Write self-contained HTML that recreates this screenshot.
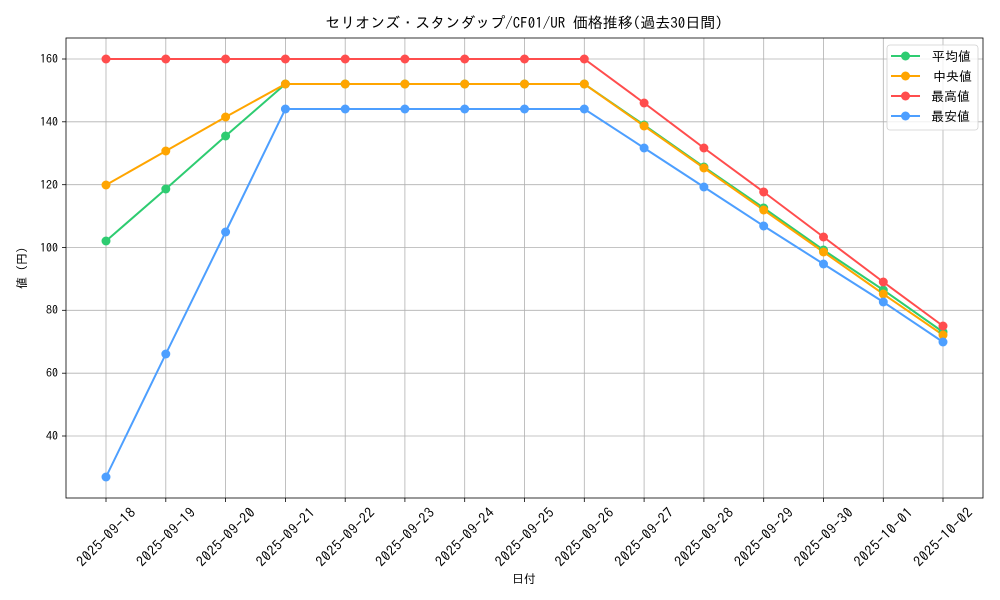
<!DOCTYPE html>
<html><head><meta charset="utf-8"><style>
body{margin:0;background:#fff}
svg{display:block;font-family:"IPAGothic","Noto Sans CJK JP",sans-serif}
</style></head><body>
<svg width="1000" height="600" xmlns="http://www.w3.org/2000/svg">
<rect width="1000" height="600" fill="#fff"/>
<g stroke="#b0b0b0" stroke-width="0.8">
<line x1="106" y1="38" x2="106" y2="498"/><line x1="165.8" y1="38" x2="165.8" y2="498"/><line x1="225.6" y1="38" x2="225.6" y2="498"/><line x1="285.4" y1="38" x2="285.4" y2="498"/><line x1="345.2" y1="38" x2="345.2" y2="498"/><line x1="404.9" y1="38" x2="404.9" y2="498"/><line x1="464.7" y1="38" x2="464.7" y2="498"/><line x1="524.5" y1="38" x2="524.5" y2="498"/><line x1="584.3" y1="38" x2="584.3" y2="498"/><line x1="644.1" y1="38" x2="644.1" y2="498"/><line x1="703.9" y1="38" x2="703.9" y2="498"/><line x1="763.7" y1="38" x2="763.7" y2="498"/><line x1="823.5" y1="38" x2="823.5" y2="498"/><line x1="883.3" y1="38" x2="883.3" y2="498"/><line x1="943" y1="38" x2="943" y2="498"/>
<line x1="66" y1="59" x2="983" y2="59"/><line x1="66" y1="121.8" x2="983" y2="121.8"/><line x1="66" y1="184.7" x2="983" y2="184.7"/><line x1="66" y1="247.5" x2="983" y2="247.5"/><line x1="66" y1="310.3" x2="983" y2="310.3"/><line x1="66" y1="373.2" x2="983" y2="373.2"/><line x1="66" y1="436" x2="983" y2="436"/>
</g>
<rect x="66" y="38" width="917" height="460" fill="none" stroke="#000" stroke-width="0.8"/>
<g stroke="#000" stroke-width="0.8">
<line x1="62" y1="59" x2="66" y2="59"/><line x1="62" y1="121.8" x2="66" y2="121.8"/><line x1="62" y1="184.7" x2="66" y2="184.7"/><line x1="62" y1="247.5" x2="66" y2="247.5"/><line x1="62" y1="310.3" x2="66" y2="310.3"/><line x1="62" y1="373.2" x2="66" y2="373.2"/><line x1="62" y1="436" x2="66" y2="436"/>
<line x1="106" y1="498" x2="106" y2="502"/><line x1="165.8" y1="498" x2="165.8" y2="502"/><line x1="225.6" y1="498" x2="225.6" y2="502"/><line x1="285.4" y1="498" x2="285.4" y2="502"/><line x1="345.2" y1="498" x2="345.2" y2="502"/><line x1="404.9" y1="498" x2="404.9" y2="502"/><line x1="464.7" y1="498" x2="464.7" y2="502"/><line x1="524.5" y1="498" x2="524.5" y2="502"/><line x1="584.3" y1="498" x2="584.3" y2="502"/><line x1="644.1" y1="498" x2="644.1" y2="502"/><line x1="703.9" y1="498" x2="703.9" y2="502"/><line x1="763.7" y1="498" x2="763.7" y2="502"/><line x1="823.5" y1="498" x2="823.5" y2="502"/><line x1="883.3" y1="498" x2="883.3" y2="502"/><line x1="943" y1="498" x2="943" y2="502"/>
</g>
<g font-size="12" text-anchor="end" fill="#000">
<text x="58" y="63">160</text><text x="58" y="126">140</text><text x="58" y="189">120</text><text x="58" y="252">100</text><text x="58" y="314">80</text><text x="58" y="377">60</text><text x="58" y="440">40</text>
</g>
<g font-size="14" text-anchor="middle" fill="#000">
<text transform="translate(106,537) rotate(-45)" dy="5" textLength="76">2025-09-18</text>
<text transform="translate(165.8,537) rotate(-45)" dy="5" textLength="76">2025-09-19</text>
<text transform="translate(225.6,537) rotate(-45)" dy="5" textLength="76">2025-09-20</text>
<text transform="translate(285.4,537) rotate(-45)" dy="5" textLength="76">2025-09-21</text>
<text transform="translate(345.2,537) rotate(-45)" dy="5" textLength="76">2025-09-22</text>
<text transform="translate(404.9,537) rotate(-45)" dy="5" textLength="76">2025-09-23</text>
<text transform="translate(464.7,537) rotate(-45)" dy="5" textLength="76">2025-09-24</text>
<text transform="translate(524.5,537) rotate(-45)" dy="5" textLength="76">2025-09-25</text>
<text transform="translate(584.3,537) rotate(-45)" dy="5" textLength="76">2025-09-26</text>
<text transform="translate(644.1,537) rotate(-45)" dy="5" textLength="76">2025-09-27</text>
<text transform="translate(703.9,537) rotate(-45)" dy="5" textLength="76">2025-09-28</text>
<text transform="translate(763.7,537) rotate(-45)" dy="5" textLength="76">2025-09-29</text>
<text transform="translate(823.5,537) rotate(-45)" dy="5" textLength="76">2025-09-30</text>
<text transform="translate(883.3,537) rotate(-45)" dy="5" textLength="76">2025-10-01</text>
<text transform="translate(943,537) rotate(-45)" dy="5" textLength="76">2025-10-02</text>
</g>
<text x="524" y="583" font-size="12" text-anchor="middle">日付</text>
<text transform="translate(26,268) rotate(-90)" font-size="12" text-anchor="middle">値 (円)</text>
<text x="524" y="28" font-size="15" text-anchor="middle">セリオンズ・スタンダップ/CF01/UR 価格推移(過去30日間)</text>
<g fill="none" stroke-width="2">
<polyline stroke="#2ecc71" points="106,241 165.8,189 225.6,136 285.4,84 345.2,84 404.9,84 464.7,84 524.5,84 584.3,84 644.1,125 703.9,167 763.7,208 823.5,250 883.3,290 943,332"/>
<polyline stroke="#ffa500" points="106,185 165.8,151 225.6,117 285.4,84 345.2,84 404.9,84 464.7,84 524.5,84 584.3,84 644.1,126 703.9,168 763.7,210 823.5,252 883.3,294 943,335"/>
<polyline stroke="#ff4d4d" points="106,59 165.8,59 225.6,59 285.4,59 345.2,59 404.9,59 464.7,59 524.5,59 584.3,59 644.1,103 703.9,148 763.7,192 823.5,237 883.3,282 943,326"/>
<polyline stroke="#4d9fff" points="106,477 165.8,354 225.6,232 285.4,109 345.2,109 404.9,109 464.7,109 524.5,109 584.3,109 644.1,148 703.9,187 763.7,226 823.5,264 883.3,302 943,342"/>
</g>
<g fill="#2ecc71"><circle cx="106" cy="241" r="4.5"/><circle cx="165.8" cy="189" r="4.5"/><circle cx="225.6" cy="136" r="4.5"/><circle cx="285.4" cy="84" r="4.5"/><circle cx="345.2" cy="84" r="4.5"/><circle cx="404.9" cy="84" r="4.5"/><circle cx="464.7" cy="84" r="4.5"/><circle cx="524.5" cy="84" r="4.5"/><circle cx="584.3" cy="84" r="4.5"/><circle cx="644.1" cy="125" r="4.5"/><circle cx="703.9" cy="167" r="4.5"/><circle cx="763.7" cy="208" r="4.5"/><circle cx="823.5" cy="250" r="4.5"/><circle cx="883.3" cy="290" r="4.5"/><circle cx="943" cy="332" r="4.5"/></g>
<g fill="#ffa500"><circle cx="106" cy="185" r="4.5"/><circle cx="165.8" cy="151" r="4.5"/><circle cx="225.6" cy="117" r="4.5"/><circle cx="285.4" cy="84" r="4.5"/><circle cx="345.2" cy="84" r="4.5"/><circle cx="404.9" cy="84" r="4.5"/><circle cx="464.7" cy="84" r="4.5"/><circle cx="524.5" cy="84" r="4.5"/><circle cx="584.3" cy="84" r="4.5"/><circle cx="644.1" cy="126" r="4.5"/><circle cx="703.9" cy="168" r="4.5"/><circle cx="763.7" cy="210" r="4.5"/><circle cx="823.5" cy="252" r="4.5"/><circle cx="883.3" cy="294" r="4.5"/><circle cx="943" cy="335" r="4.5"/></g>
<g fill="#ff4d4d"><circle cx="106" cy="59" r="4.5"/><circle cx="165.8" cy="59" r="4.5"/><circle cx="225.6" cy="59" r="4.5"/><circle cx="285.4" cy="59" r="4.5"/><circle cx="345.2" cy="59" r="4.5"/><circle cx="404.9" cy="59" r="4.5"/><circle cx="464.7" cy="59" r="4.5"/><circle cx="524.5" cy="59" r="4.5"/><circle cx="584.3" cy="59" r="4.5"/><circle cx="644.1" cy="103" r="4.5"/><circle cx="703.9" cy="148" r="4.5"/><circle cx="763.7" cy="192" r="4.5"/><circle cx="823.5" cy="237" r="4.5"/><circle cx="883.3" cy="282" r="4.5"/><circle cx="943" cy="326" r="4.5"/></g>
<g fill="#4d9fff"><circle cx="106" cy="477" r="4.5"/><circle cx="165.8" cy="354" r="4.5"/><circle cx="225.6" cy="232" r="4.5"/><circle cx="285.4" cy="109" r="4.5"/><circle cx="345.2" cy="109" r="4.5"/><circle cx="404.9" cy="109" r="4.5"/><circle cx="464.7" cy="109" r="4.5"/><circle cx="524.5" cy="109" r="4.5"/><circle cx="584.3" cy="109" r="4.5"/><circle cx="644.1" cy="148" r="4.5"/><circle cx="703.9" cy="187" r="4.5"/><circle cx="763.7" cy="226" r="4.5"/><circle cx="823.5" cy="264" r="4.5"/><circle cx="883.3" cy="302" r="4.5"/><circle cx="943" cy="342" r="4.5"/></g>
<rect x="887" y="45" width="91" height="85" rx="3" fill="#fff" fill-opacity="0.8" stroke="#d0d0d0" stroke-width="0.8"/>
<g stroke-width="2">
<line x1="891" y1="56" x2="920" y2="56" stroke="#2ecc71"/><circle cx="905.5" cy="56" r="4.5" fill="#2ecc71"/>
<line x1="891" y1="76" x2="920" y2="76" stroke="#ffa500"/><circle cx="905.5" cy="76" r="4.5" fill="#ffa500"/>
<line x1="891" y1="96" x2="920" y2="96" stroke="#ff4d4d"/><circle cx="905.5" cy="96" r="4.5" fill="#ff4d4d"/>
<line x1="891" y1="116" x2="920" y2="116" stroke="#4d9fff"/><circle cx="905.5" cy="116" r="4.5" fill="#4d9fff"/>
</g>
<g font-size="13">
<text x="932" y="61">平均値</text><text x="933" y="81">中央値</text><text x="931" y="101">最高値</text><text x="931" y="121">最安値</text>
</g>
</svg>
</body></html>
